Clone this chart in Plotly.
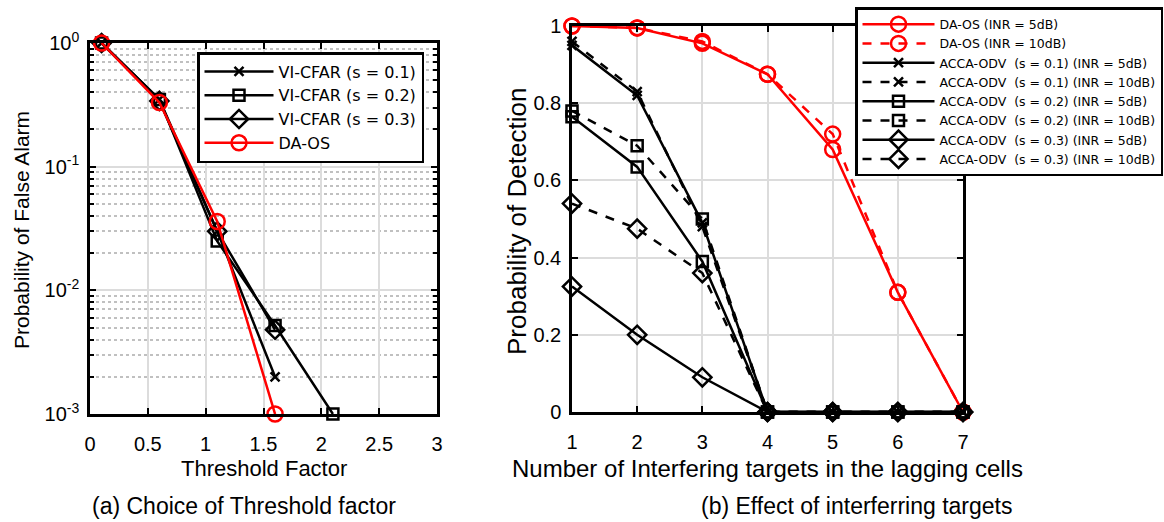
import plotly.graph_objects as go

# ---------------- data: (a) threshold factor ----------------
thr_s01 = [0.1, 0.6, 1.1, 1.6]
pfa_s01 = [1.0, 0.35, 0.030, 0.002]
thr_s02 = [0.1, 0.6, 1.1, 1.6, 2.1]
pfa_s02 = [1.0, 0.35, 0.025, 0.0052, 0.001]
thr_s03 = [0.1, 0.6, 1.1, 1.6]
pfa_s03 = [1.0, 0.34, 0.030, 0.0048]
thr_daos = [0.1, 0.6, 1.1, 1.6]
pfa_daos = [1.0, 0.33, 0.036, 0.001]

# ---------------- data: (b) interfering targets ----------------
n_targets = [1, 2, 3, 4, 5, 6, 7]
pd_daos_5 = [1.0, 0.995, 0.955, 0.875, 0.68, 0.31, 0.0]
pd_daos_10 = [1.0, 0.995, 0.96, 0.875, 0.72, 0.31, 0.0]
pd_acca01_5 = [0.95, 0.82, 0.49, 0.0, 0.0, 0.0, 0.0]
pd_acca01_10 = [0.96, 0.83, 0.48, 0.0, 0.0, 0.0, 0.0]
pd_acca02_5 = [0.765, 0.635, 0.39, 0.0, 0.0, 0.0, 0.0]
pd_acca02_10 = [0.78, 0.69, 0.50, 0.0, 0.0, 0.0, 0.0]
pd_acca03_5 = [0.325, 0.20, 0.09, 0.0, 0.0, 0.0, 0.0]
pd_acca03_10 = [0.54, 0.475, 0.36, 0.0, 0.0, 0.0, 0.0]

left_xticks = [0, 0.5, 1, 1.5, 2, 2.5, 3]
left_yticks = [1, 0.1, 0.01, 0.001]
left_yticktext = ["10<sup>0</sup>", "10<sup>-1</sup>", "10<sup>-2</sup>", "10<sup>-3</sup>"]
right_yticks = [0, 0.2, 0.4, 0.6, 0.8, 1]
right_yticktext = ["0", "0.2", "0.4", "0.6", "0.8", "1"]

W, H = 1164, 522
FONT = "Liberation Sans, Arial, Helvetica, sans-serif"
LFONT = "DejaVu Sans, Liberation Sans, sans-serif"
RED = "#ff0000"
BLK = "#000000"
LW = 2.5


def mk(symbol, color, size, lw=2):
    return dict(symbol=symbol, size=size, color=color,
                line=dict(color=color, width=lw))


fig = go.Figure()

# ---- left panel ----
left_series = [
    ("VI-CFAR (s = 0.1)", thr_s01, pfa_s01, "x-thin", BLK, 9),
    ("VI-CFAR (s = 0.2)", thr_s02, pfa_s02, "square-open", BLK, 11),
    ("VI-CFAR (s = 0.3)", thr_s03, pfa_s03, "diamond-open", BLK, 14),
    ("DA-OS", thr_daos, pfa_daos, "circle-open", RED, 15),
]
for name, xs, ys, sym, col, sz in left_series:
    fig.add_trace(go.Scatter(
        x=xs, y=ys, name=name, mode="lines+markers",
        line=dict(color=col, width=LW),
        marker=mk(sym, col, sz, 2.5),
        cliponaxis=False, xaxis="x", yaxis="y", legend="legend"))

# ---- right panel ----
right_series = [
    ("DA-OS (INR = 5dB)", pd_daos_5, "circle-open", RED, 15, "solid"),
    ("DA-OS (INR = 10dB)", pd_daos_10, "circle-open", RED, 15, "dash"),
    ("ACCA-ODV\u00a0\u00a0(s = 0.1) (INR = 5dB)", pd_acca01_5, "x-thin", BLK, 9, "solid"),
    ("ACCA-ODV\u00a0\u00a0(s = 0.1) (INR = 10dB)", pd_acca01_10, "x-thin", BLK, 9, "dash"),
    ("ACCA-ODV\u00a0\u00a0(s = 0.2) (INR = 5dB)", pd_acca02_5, "square-open", BLK, 11, "solid"),
    ("ACCA-ODV\u00a0\u00a0(s = 0.2) (INR = 10dB)", pd_acca02_10, "square-open", BLK, 11, "dash"),
    ("ACCA-ODV\u00a0\u00a0(s = 0.3) (INR = 5dB)", pd_acca03_5, "diamond-open", BLK, 14, "solid"),
    ("ACCA-ODV\u00a0\u00a0(s = 0.3) (INR = 10dB)", pd_acca03_10, "diamond-open", BLK, 14, "dash"),
]
for name, ys, sym, col, sz, dash in right_series:
    fig.add_trace(go.Scatter(
        x=n_targets, y=ys, name=name, mode="lines+markers",
        line=dict(color=col, width=LW, dash=dash),
        marker=mk(sym, col, sz, 2.5),
        cliponaxis=False, xaxis="x2", yaxis="y2", legend="legend2"))

axis_common = dict(
    showline=True, linecolor=BLK, linewidth=2.5, mirror="allticks",
    ticks="inside", ticklen=6, tickwidth=2, tickcolor=BLK,
    showgrid=True, gridcolor="#dcdcdc", gridwidth=2,
    zeroline=False, automargin=False,
    tickfont=dict(family=FONT, size=20, color=BLK),
)

fig.update_layout(
    width=W, height=H,
    margin=dict(l=0, r=0, t=0, b=0, autoexpand=False),
    paper_bgcolor="white", plot_bgcolor="white",
    font=dict(family=FONT, color=BLK),
    xaxis=dict(domain=[90 / W, 437 / W], range=[0, 3], tickvals=left_xticks,
               anchor="y", ticklabelstandoff=10, **axis_common),
    yaxis=dict(domain=[1 - 414 / H, 1 - 43 / H], type="log", range=[-3, 0],
               tickvals=left_yticks, ticktext=left_yticktext, anchor="x",
               ticklabelstandoff=4,
               minor=dict(dtick="D1", showgrid=True, griddash="dot",
                          gridcolor="#c0c0c0", gridwidth=2,
                          ticks="inside", ticklen=4, tickcolor=BLK, tickwidth=1.5),
               **axis_common),
    xaxis2=dict(domain=[572 / W, 963 / W], range=[1, 7], dtick=1,
                anchor="y2", ticklabelstandoff=10, **axis_common),
    yaxis2=dict(domain=[1 - 412 / H, 1 - 26 / H], range=[0, 1],
                tickvals=right_yticks, ticktext=right_yticktext, anchor="x2",
                ticklabelstandoff=4, **axis_common),
    legend=dict(x=197 / W, y=1 - 52 / H, xanchor="left", yanchor="top",
                bgcolor="white", bordercolor=BLK, borderwidth=2.5,
                font=dict(family=LFONT, size=16, color=BLK),
                itemwidth=69, tracegroupgap=0),
    legend2=dict(x=855 / W, y=1 - 7 / H, xanchor="left", yanchor="top",
                 bgcolor="white", bordercolor=BLK, borderwidth=2.5,
                 font=dict(family=LFONT, size=12.5, color=BLK),
                 itemwidth=72, tracegroupgap=0),
    showlegend=True,
)

# axis titles and sub-captions
ann = [
    dict(text="Threshold Factor", x=(90 + 437) / 2 / W, y=1 - 468 / H, size=22),
    dict(text="Number of Interfering targets in the lagging cells",
         x=(572 + 963) / 2 / W, y=1 - 468 / H, size=24),
    dict(text="(a) Choice of Threshold factor", x=244 / W, y=1 - 506 / H, size=23),
    dict(text="(b) Effect of interferring targets", x=857 / W, y=1 - 506 / H, size=23),
]
for a in ann:
    fig.add_annotation(text=a["text"], x=a["x"], y=a["y"], xref="paper", yref="paper",
                       xanchor="center", yanchor="middle", showarrow=False,
                       font=dict(family=FONT, size=a["size"], color=BLK))
fig.add_annotation(text="Probability of False Alarm", x=22 / W, y=1 - 230 / H,
                   xref="paper", yref="paper", textangle=-90, showarrow=False,
                   xanchor="center", yanchor="middle",
                   font=dict(family=FONT, size=21, color=BLK))
fig.add_annotation(text="Probability of Detection", x=517 / W, y=1 - 222 / H,
                   xref="paper", yref="paper", textangle=-90, showarrow=False,
                   xanchor="center", yanchor="middle",
                   font=dict(family=FONT, size=26, color=BLK))

fig.write_html("out.html")
